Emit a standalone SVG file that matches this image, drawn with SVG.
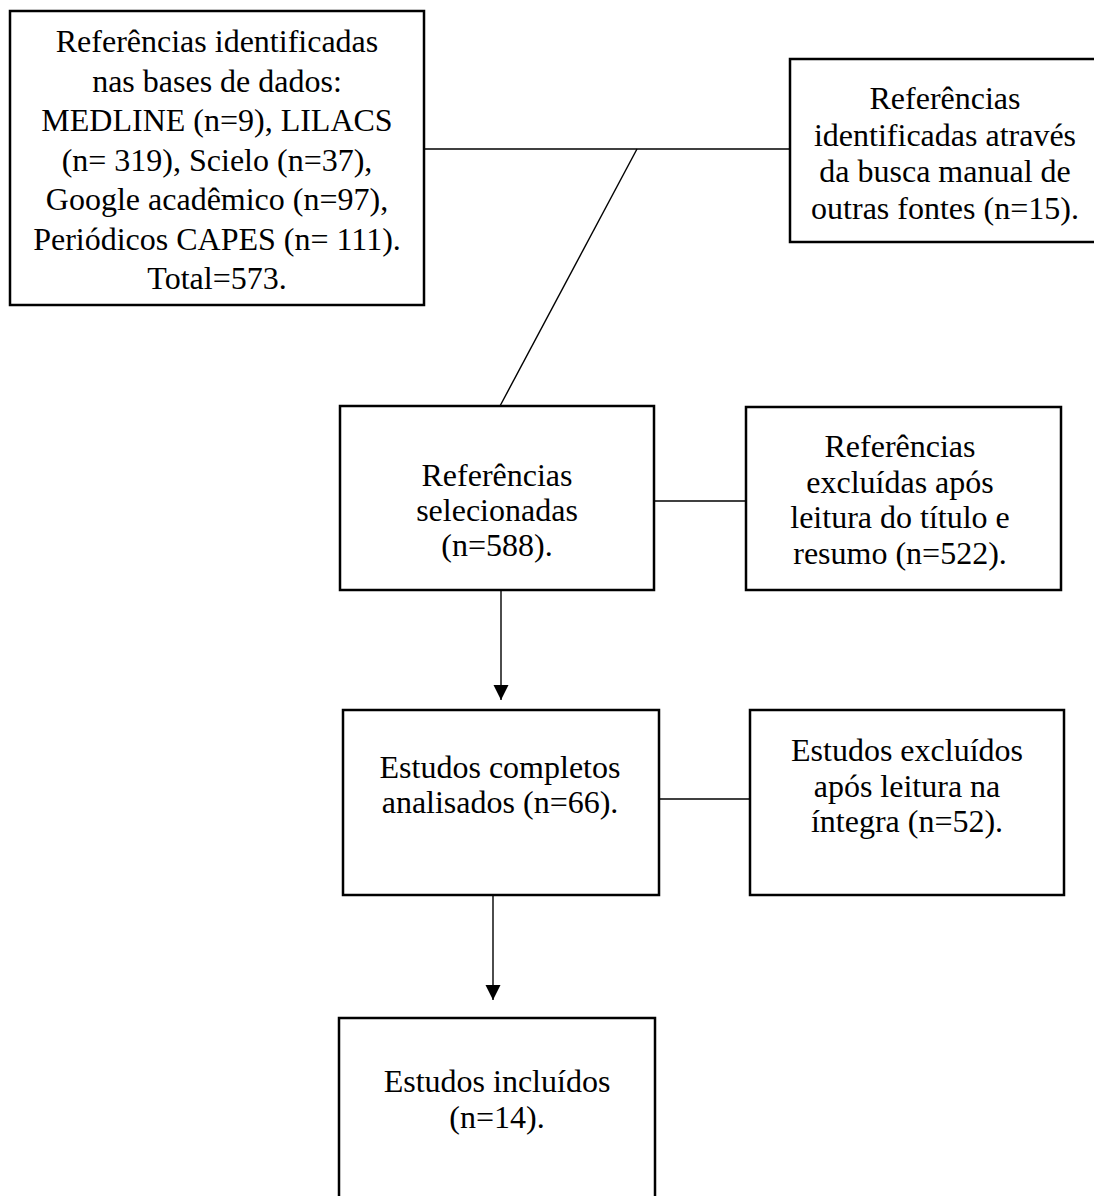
<svg xmlns="http://www.w3.org/2000/svg" width="1094" height="1196" viewBox="0 0 1094 1196">
<style>
.box{fill:#fff;stroke:#000;stroke-width:2.5}
.t{font-family:"Liberation Serif","Times New Roman",serif;font-size:32px;fill:#000;text-anchor:middle}
.c{stroke:#000;stroke-width:1.4;fill:none}
</style>
<defs>
<marker id="ah" markerUnits="userSpaceOnUse" markerWidth="16" markerHeight="16" refX="15" refY="7.5" orient="auto">
<path d="M0,0 L15,7.5 L0,15 Z" fill="#000"/>
</marker>
</defs>
<rect width="1094" height="1196" fill="#fff"/>
<g id="connectors">
<line class="c" x1="424" y1="149" x2="790" y2="149"/>
<line class="c" x1="637" y1="149" x2="500" y2="406"/>
<line class="c" x1="654" y1="501" x2="746" y2="501"/>
<line class="c" x1="501" y1="590" x2="501" y2="700" marker-end="url(#ah)"/>
<line class="c" x1="659" y1="799" x2="750" y2="799"/>
<line class="c" x1="493" y1="895" x2="493" y2="1000" marker-end="url(#ah)"/>
</g>
<g id="n1">
<rect class="box" x="10" y="11" width="414" height="294"/>
<text class="t" x="217" y="52">Referências identificadas</text>
<text class="t" x="217" y="91.5">nas bases de dados:</text>
<text class="t" x="217" y="131">MEDLINE (n=9), LILACS</text>
<text class="t" x="217" y="170.5">(n= 319), Scielo (n=37),</text>
<text class="t" x="217" y="210">Google acadêmico (n=97),</text>
<text class="t" x="217" y="249.5">Periódicos CAPES (n= 111).</text>
<text class="t" x="217" y="289">Total=573.</text>
</g>
<g id="n2">
<rect class="box" x="790" y="59" width="315" height="183"/>
<text class="t" x="945" y="109">Referências</text>
<text class="t" x="945" y="145.5">identificadas através</text>
<text class="t" x="945" y="182">da busca manual de</text>
<text class="t" x="945" y="218.5">outras fontes (n=15).</text>
</g>
<g id="n3">
<rect class="box" x="340" y="406" width="314" height="184"/>
<text class="t" x="497" y="486">Referências</text>
<text class="t" x="497" y="521">selecionadas</text>
<text class="t" x="497" y="556">(n=588).</text>
</g>
<g id="n4">
<rect class="box" x="746" y="407" width="315" height="183"/>
<text class="t" x="900" y="457">Referências</text>
<text class="t" x="900" y="493">excluídas após</text>
<text class="t" x="900" y="528">leitura do título e</text>
<text class="t" x="900" y="564">resumo (n=522).</text>
</g>
<g id="n5">
<rect class="box" x="343" y="710" width="316" height="185"/>
<text class="t" x="500" y="778">Estudos completos</text>
<text class="t" x="500" y="813">analisados (n=66).</text>
</g>
<g id="n6">
<rect class="box" x="750" y="710" width="314" height="185"/>
<text class="t" x="907" y="761">Estudos excluídos</text>
<text class="t" x="907" y="797">após leitura na</text>
<text class="t" x="907" y="832">íntegra (n=52).</text>
</g>
<g id="n7">
<rect class="box" x="339" y="1018" width="316" height="200"/>
<text class="t" x="497" y="1092">Estudos incluídos</text>
<text class="t" x="497" y="1128">(n=14).</text>
</g>
</svg>
